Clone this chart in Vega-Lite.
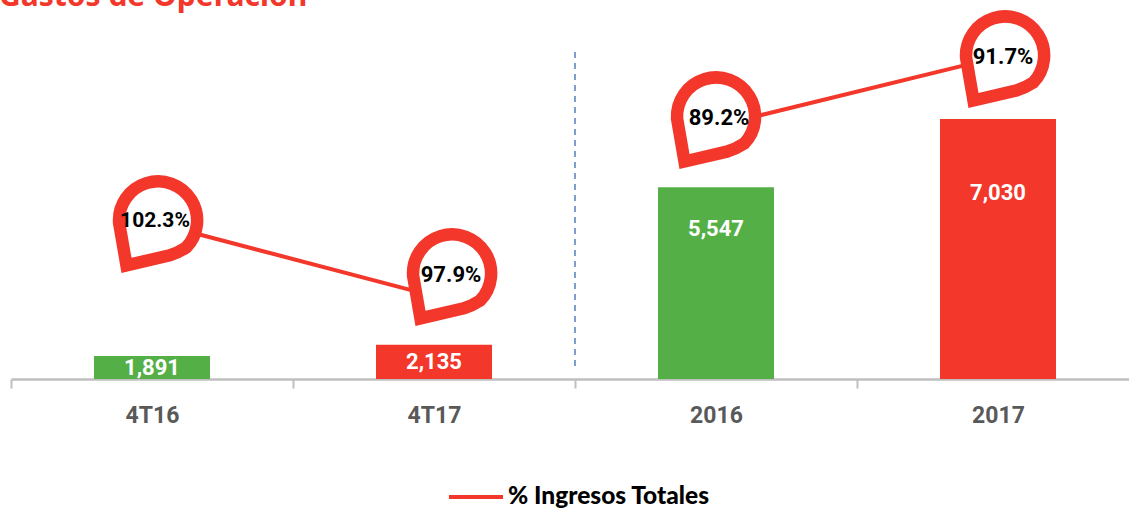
{
"$schema":"https://vega.github.io/schema/vega-lite/v6.json",
"width":1128,"height":379,
"autosize":{"type":"none"},
"padding":{"left":11,"top":0,"right":0,"bottom":131},
"background":"white",
"view":{"stroke":null},
"title":{"text":"Gastos de Operación","anchor":"start","frame":"group","orient":"top","offset":0,"dy":45,"dx":-12,"baseline":"alphabetic","font":"Noto Sans","fontSize":30,"fontWeight":"bold","color":"#F3372B"},
"data":{"values":[
{"Periodo":"4T16","Gastos":1891,"Pct":102.3,"Etiqueta":"102.3%","Tipo":"anterior","Grupo":"trimestre","Serie":"% Ingresos Totales"},
{"Periodo":"4T17","Gastos":2135,"Pct":97.9,"Etiqueta":"97.9%","Tipo":"actual","Grupo":"trimestre","Serie":"% Ingresos Totales"},
{"Periodo":"2016","Gastos":5547,"Pct":89.2,"Etiqueta":"89.2%","Tipo":"anterior","Grupo":"anual","Serie":"% Ingresos Totales"},
{"Periodo":"2017","Gastos":7030,"Pct":91.7,"Etiqueta":"91.7%","Tipo":"actual","Grupo":"anual","Serie":"% Ingresos Totales"}
]},
"encoding":{"x":{"field":"Periodo","type":"nominal","sort":null,"scale":{"domain":["4T16","4T17","2016","2017"],"paddingInner":0,"paddingOuter":0},"axis":{"title":null,"labelAngle":0,"domainColor":"#BFBFBF","domainWidth":2.5,"tickColor":"#BFBFBF","tickWidth":2,"tickSize":9,"tickBand":"extent","labelFont":"Roboto","labelFontWeight":"bold","labelFontSize":23,"labelColor":"#595959","labelPadding":16,"grid":false,"zindex":0}}},
"layer":[
{"layer":[
{"mark":{"type":"bar","size":116},
 "encoding":{
  "y":{"field":"Gastos","type":"quantitative","scale":{"domain":[1390,9611],"nice":false,"zero":false},"axis":null},
  "y2":{"datum":1390},
  "fill":{"field":"Tipo","type":"nominal","scale":{"domain":["anterior","actual"],"range":["#55AF47","#F3372B"]},"legend":null}}},
{"mark":{"type":"rule","color":"#4F7FBF","strokeWidth":1.5,"strokeDash":[6,5]},
 "transform":[{"filter":"datum.Periodo==='2016'"}],
 "encoding":{
  "x":{"field":"Periodo","type":"nominal","sort":null,"bandPosition":0},
  "y":{"datum":8483,"type":"quantitative"},
  "y2":{"datum":1650}}}
]},
{"transform":[{"filter":"datum.Grupo==='trimestre'"}],
 "mark":{"type":"text","color":"white","font":"Roboto","fontWeight":"bold","fontSize":22,"baseline":"middle"},
 "encoding":{"y":{"field":"Gastos","type":"quantitative","scale":{"domain":[1381,18195],"nice":false,"zero":false},"axis":null},
  "text":{"field":"Gastos","type":"quantitative","format":","}}},
{"transform":[{"filter":"datum.Grupo==='anual'"}],
 "mark":{"type":"text","color":"white","font":"Roboto","fontWeight":"bold","fontSize":22,"baseline":"middle"},
 "encoding":{"y":{"field":"Gastos","type":"quantitative","scale":{"domain":[-630,14985],"nice":false,"zero":false},"axis":null},
  "text":{"field":"Gastos","type":"quantitative","format":","}}},
{"transform":[{"filter":"datum.Grupo==='trimestre'"}],
 "encoding":{"y":{"field":"Pct","type":"quantitative","scale":{"domain":[92.97,115.5],"nice":false,"zero":false},"axis":null}},
 "layer":[
 {"mark":{"type":"line","strokeWidth":4},
  "encoding":{"stroke":{"field":"Serie","type":"nominal","scale":{"range":["#F3372B"]},
   "legend":{"title":null,"orient":"none","legendX":436,"legendY":468,"symbolType":"stroke","symbolSize":2916,"symbolStrokeWidth":4,"labelFont":"Lato","labelFontWeight":900,"labelFontSize":24.5,"labelColor":"#000000","labelOffset":3,"labelLimit":400}}}},
 {"transform":[{"filter":"datum.Periodo==='4T16'"}],"layer":[
  {"mark":{"type":"point","filled":false,"fill":"white","stroke":"#F3372B","strokeWidth":12.5,"opacity":1,"fillOpacity":1,"size":6100,"xOffset":3,"yOffset":0,"shape":"M-0.73,1.11 L-0.92,0.01 A1,1 0 1 1 0.8,0.65 Q0.58,0.79 0.38,0.85 Z"}},
  {"mark":{"type":"text","color":"black","font":"Roboto","fontWeight":"bold","fontSize":21,"baseline":"middle","xOffset":3,"yOffset":-1},"encoding":{"text":{"field":"Etiqueta","type":"nominal"}}}]},
 {"transform":[{"filter":"datum.Periodo==='4T17'"}],"layer":[
  {"mark":{"type":"point","filled":false,"fill":"white","stroke":"#F3372B","strokeWidth":12.5,"opacity":1,"fillOpacity":1,"size":6100,"xOffset":15,"yOffset":-21,"shape":"M-0.73,1.11 L-0.92,0.01 A1,1 0 1 1 0.8,0.65 Q0.58,0.79 0.38,0.85 Z"}},
  {"mark":{"type":"text","color":"black","font":"Roboto","fontWeight":"bold","fontSize":22,"baseline":"middle","xOffset":17,"yOffset":-21},"encoding":{"text":{"field":"Etiqueta","type":"nominal"}}}]}
 ]},
{"transform":[{"filter":"datum.Grupo==='anual'"}],
 "encoding":{"y":{"field":"Pct","type":"quantitative","scale":{"domain":[80.04,93.77],"nice":false,"zero":false},"axis":null}},
 "layer":[
 {"mark":{"type":"line","strokeWidth":4},
  "encoding":{"stroke":{"field":"Serie","type":"nominal"}}},
 {"transform":[{"filter":"datum.Periodo==='2016'"}],"layer":[
  {"mark":{"type":"point","filled":false,"fill":"white","stroke":"#F3372B","strokeWidth":12.5,"opacity":1,"fillOpacity":1,"size":6100,"xOffset":-3,"yOffset":-8,"shape":"M-0.73,1.11 L-0.92,0.01 A1,1 0 1 1 0.8,0.65 Q0.58,0.79 0.38,0.85 Z"}},
  {"mark":{"type":"text","color":"black","font":"Roboto","fontWeight":"bold","fontSize":22,"baseline":"middle","xOffset":3,"yOffset":-8},"encoding":{"text":{"field":"Etiqueta","type":"nominal"}}}]},
 {"transform":[{"filter":"datum.Periodo==='2017'"}],"layer":[
  {"mark":{"type":"point","filled":false,"fill":"white","stroke":"#F3372B","strokeWidth":12.5,"opacity":1,"fillOpacity":1,"size":6100,"xOffset":4,"yOffset":0,"shape":"M-0.73,1.11 L-0.92,0.01 A1,1 0 1 1 0.8,0.65 Q0.58,0.79 0.38,0.85 Z"}},
  {"mark":{"type":"text","color":"black","font":"Roboto","fontWeight":"bold","fontSize":22,"baseline":"middle","xOffset":5,"yOffset":0},"encoding":{"text":{"field":"Etiqueta","type":"nominal"}}}]}
 ]}
],
"resolve":{"scale":{"y":"independent"}}
}
